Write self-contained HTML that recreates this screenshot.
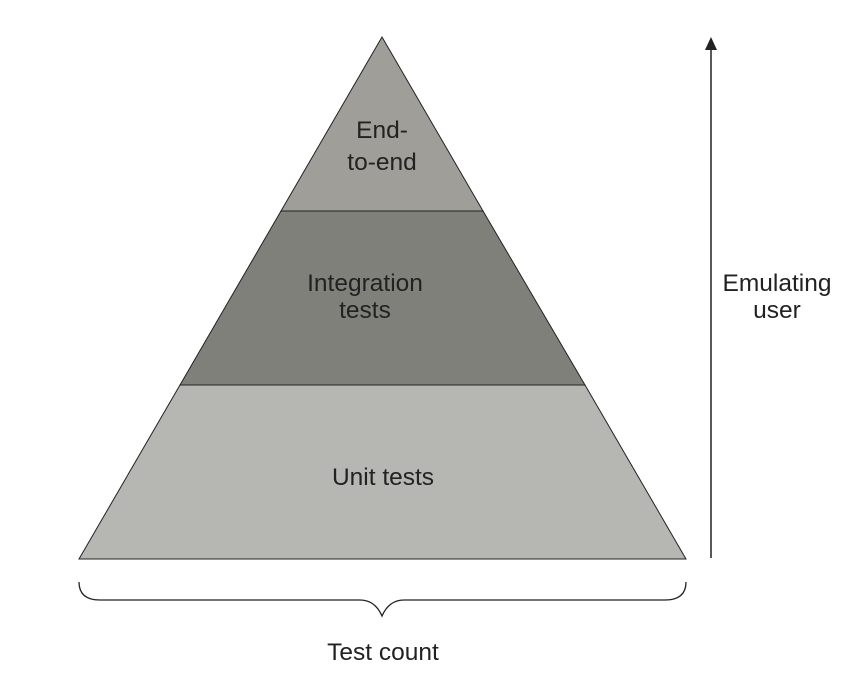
<!DOCTYPE html>
<html><head><style>body{margin:0;background:#fff}svg{display:block}</style></head>
<body>
<svg width="868" height="690" xmlns="http://www.w3.org/2000/svg" font-family="Liberation Sans, sans-serif" font-size="24.5" fill="#222">
<polygon points="382,37 483,211 281,211" fill="#9f9e99" stroke="#222" stroke-width="1"/>
<polygon points="281,211 483,211 585,385 180,385" fill="#80807b" stroke="#222" stroke-width="1"/>
<polygon points="180,385 585,385 686,559 79,559" fill="#b6b6b2" stroke="#222" stroke-width="1"/>
<g text-anchor="middle">
<text x="382" y="138">End-</text>
<text x="382" y="170">to-end</text>
<text x="365" y="291">Integration</text>
<text x="365" y="318">tests</text>
<text x="383" y="485">Unit tests</text>
<text x="383" y="660">Test count</text>
<text x="777" y="291">Emulating</text>
<text x="777" y="318">user</text>
</g>
<path d="M79,582 Q79,600 100,600 L360,600 Q375,600 382,616 Q389,600 404,600 L665,600 Q686,600 686,582" fill="none" stroke="#222" stroke-width="1.3"/>
<line x1="711" y1="558" x2="711" y2="48" stroke="#222" stroke-width="1.5"/>
<polygon points="711,37 705,50 717,50" fill="#222"/>
</svg>
</body></html>
